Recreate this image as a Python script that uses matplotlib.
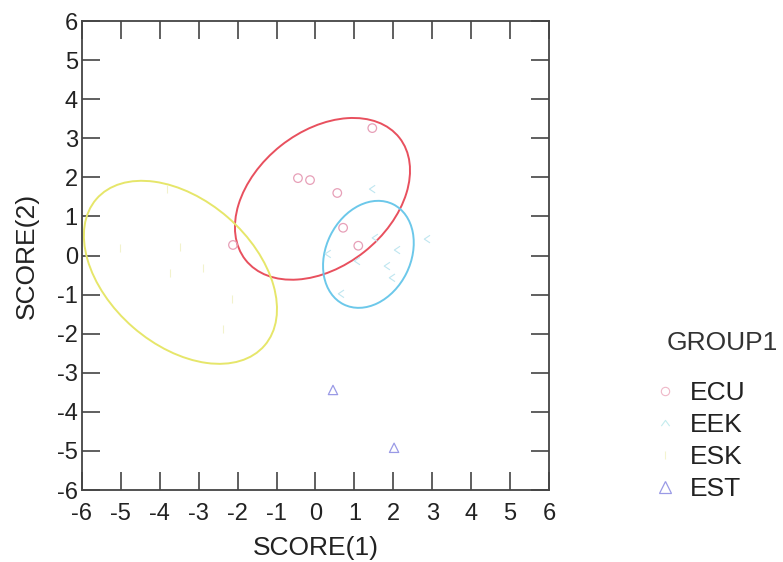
import numpy as np
import matplotlib
matplotlib.use('Agg')
import matplotlib.pyplot as plt
from matplotlib.patches import Ellipse
from matplotlib.lines import Line2D

plt.rcParams['font.family'] = ['Liberation Sans', 'DejaVu Sans']
plt.rcParams['axes.unicode_minus'] = False

# Discriminant scores per group
ecu_x = [-0.45, -0.14, 0.56, 1.46, 0.71, 1.10, -2.12]
ecu_y = [1.98, 1.93, 1.60, 3.26, 0.71, 0.25, 0.27]

eek_x = [1.46, 1.53, 2.10, 2.87, 0.32, 1.84, 1.97, 0.66, 1.07]
eek_y = [1.70, 0.45, 0.14, 0.42, 0.04, -0.27, -0.57, -0.98, -0.14]

esk_x = [-3.74, -2.89, -2.14, -2.37, -3.81, -3.48, -5.02]
esk_y = [-0.44, -0.32, -1.11, -1.88, 1.70, 0.22, 0.20]

est_x = [0.45, 2.02]
est_y = [-3.44, -4.92]

# Confidence ellipses: centre, full width, full height, rotation (deg)
ell_groups = ['ECU', 'EEK', 'ESK']
ell_cx = [0.18, 1.36, -3.47]
ell_cy = [1.45, 0.03, -0.43]
ell_w = [5.04, 2.86, 5.72]
ell_h = [3.46, 2.18, 3.72]
ell_ang = [38.3, 63.5, -40.9]

labels = ['ECU', 'EEK', 'ESK', 'EST']
ell_colors = ['#e8505e', '#6cc8ea', '#e6e66a']

fig = plt.figure(figsize=(7.83, 5.62), dpi=100)
ax = fig.add_axes([0.1047, 0.1281, 0.5964, 0.8345])

caret_left = [(0.6, 0.8), (-0.6, 0.0), (0.6, -0.8)]
caret_up = [(-0.8, -0.5), (0.0, 0.6), (0.8, -0.5)]

ax.scatter(ecu_x, ecu_y, s=38, facecolors='none', edgecolors='#e7a0b8', linewidths=0.9, zorder=3)
ax.scatter(eek_x, eek_y, s=30, marker=caret_left, facecolors='none', edgecolors='#bfe6f0', linewidths=0.8, zorder=3)
ax.scatter(esk_x, esk_y, s=30, marker='|', color='#f2f2cc', linewidths=0.8, zorder=3)
ax.scatter(est_x, est_y, s=45, marker='^', facecolors='none', edgecolors='#9a9ae6', linewidths=0.9, zorder=3)

for cx, cy, w, h, a, c in zip(ell_cx, ell_cy, ell_w, ell_h, ell_ang, ell_colors):
    ax.add_patch(Ellipse((cx, cy), w, h, angle=a, fill=False, edgecolor=c, linewidth=1.4, zorder=2))

ax.set_xlim(-6, 6)
ax.set_ylim(-6, 6)
ax.set_xticks(np.arange(-6, 7))
ax.set_yticks(np.arange(-6, 7))
ax.tick_params(direction='in', length=13, width=1.2, color='#444444', labelsize=17,
               top=True, right=True, labelcolor='#222222')
ax.tick_params(axis='x', pad=9)
ax.tick_params(axis='y', pad=3)
for sp in ax.spines.values():
    sp.set_color('#444444')
    sp.set_linewidth(1.3)

ax.set_xlabel('SCORE(1)', fontsize=19, color='#222222', labelpad=8)
ax.set_ylabel('SCORE(2)', fontsize=19, color='#222222', labelpad=13)

handles = [
    Line2D([], [], linestyle='none', marker='o', markersize=6, markerfacecolor='none',
           markeredgecolor='#efb8c8', markeredgewidth=0.8),
    Line2D([], [], linestyle='none', marker=caret_up, markersize=6, markerfacecolor='none',
           markeredgecolor='#c4ecee', markeredgewidth=0.8),
    Line2D([], [], linestyle='none', marker='|', markersize=6, color='#f4f4d0', markeredgewidth=0.8),
    Line2D([], [], linestyle='none', marker='^', markersize=8, markerfacecolor='none',
           markeredgecolor='#9a9ae6', markeredgewidth=0.9),
]
fig.text(722 / 783, 1 - 343 / 562, 'GROUP1', fontsize=19, color='#333333',
         ha='center', va='center')
leg = fig.legend(handles, labels, loc='upper left',
                 bbox_to_anchor=(652 / 783, 1 - 381 / 562), frameon=False, fontsize=19,
                 borderpad=0, borderaxespad=0, handletextpad=0.45,
                 labelspacing=0.3, handlelength=1.0)
for t in leg.get_texts():
    t.set_color('#222222')

fig.savefig('out.png', dpi=100)
